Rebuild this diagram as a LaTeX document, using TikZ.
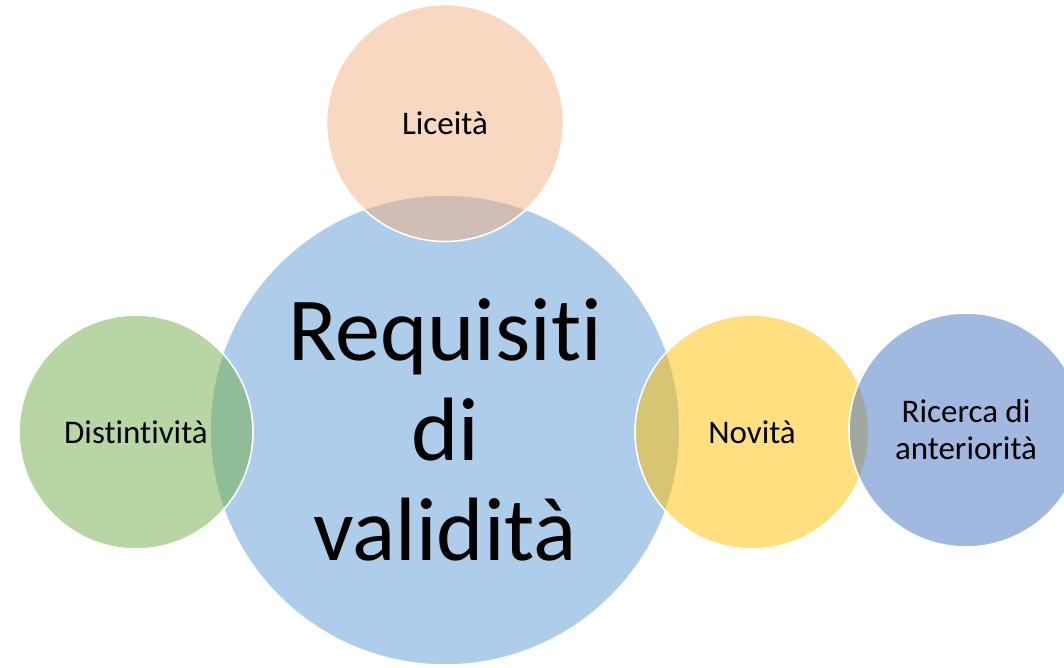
\documentclass[tikz,border=0pt]{standalone}
\usepackage{fontspec}
\setmainfont[Ligatures={NoCommon,NoRare,NoContextual}]{Carlito}
\definecolor{bluebig}{HTML}{5B9BD5}
\definecolor{orangelic}{HTML}{F4B183}
\definecolor{greendist}{HTML}{70AD47}
\definecolor{yellownov}{HTML}{FFC000}
\definecolor{bluerice}{HTML}{4472C4}
\begin{document}
\begin{tikzpicture}[x=1pt,y=-1pt,
  bubble/.style={circle,draw=white,line width=1.6pt,fill opacity=.5,text opacity=1,
    inner sep=0pt,minimum size=234pt,align=center,font=\fontsize{33}{37}\selectfont}]
\useasboundingbox (0,0) rectangle (1064,668);
\node[bubble,fill=bluebig,minimum size=470pt,font=\fontsize{90}{100}\selectfont] (req) at (445,430) {Requisiti\\di\\validità};
\node[bubble,fill=orangelic,minimum size=237pt] (lic) at (445,123) {Liceità};
\node[bubble,fill=greendist] (dist) at (136,432) {Distintività};
\node[bubble,fill=yellownov] (nov) at (752,432) {Novità};
\node[bubble,fill=bluerice] (ric) at (966,430) {Ricerca di\\anteriorità};
\end{tikzpicture}
\end{document}
